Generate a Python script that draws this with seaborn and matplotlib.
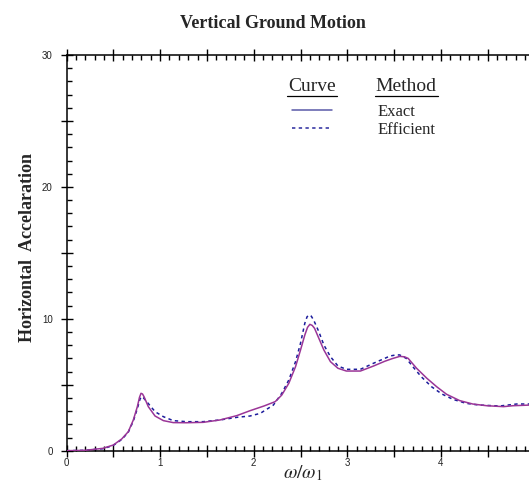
import matplotlib
matplotlib.use("Agg")
import matplotlib.pyplot as plt
from matplotlib.lines import Line2D
from matplotlib.ticker import MultipleLocator, FuncFormatter
import seaborn as sns
import pandas as pd

# Frequency ratio w/w1 and response, exact solution
exact_freq = [0.00, 0.20, 0.39, 0.50, 0.59, 0.66, 0.714, 0.757, 0.78, 0.796,
              0.812, 0.828, 0.874, 0.946, 1.035, 1.14, 1.28, 1.46, 1.64, 1.82,
              1.96, 2.11, 2.23, 2.30, 2.375, 2.447, 2.50, 2.546, 2.575, 2.60,
              2.625, 2.65, 2.696, 2.75, 2.82, 2.90, 2.99, 3.14, 3.28, 3.40,
              3.48, 3.56, 3.61, 3.65, 3.74, 3.85, 3.955, 4.06, 4.20, 4.34,
              4.49, 4.67, 4.77, 4.95]
exact_acc = [0.0, 0.03, 0.18, 0.43, 0.89, 1.44, 2.33, 3.34, 4.05, 4.35,
             4.30, 4.10, 3.34, 2.63, 2.28, 2.13, 2.12, 2.15, 2.33, 2.66,
             3.03, 3.39, 3.72, 4.22, 5.11, 6.37, 7.63, 8.77, 9.35, 9.58,
             9.50, 9.28, 8.52, 7.63, 6.75, 6.25, 6.04, 6.04, 6.42, 6.78,
             6.98, 7.15, 7.12, 7.00, 6.25, 5.49, 4.85, 4.28, 3.80, 3.54,
             3.41, 3.34, 3.41, 3.46]

# Efficient (approximate) method
eff_freq = [0.00, 0.20, 0.39, 0.50, 0.59, 0.66, 0.714, 0.757, 0.785, 0.80,
            0.82, 0.857, 0.946, 1.035, 1.14, 1.28, 1.46, 1.64, 1.82, 1.96,
            2.07, 2.21, 2.30, 2.375, 2.447, 2.50, 2.546, 2.57, 2.59, 2.615,
            2.64, 2.696, 2.75, 2.82, 2.90, 2.99, 3.14, 3.28, 3.40, 3.456,
            3.52, 3.56, 3.63, 3.70, 3.79, 3.90, 4.01, 4.13, 4.27, 4.41,
            4.63, 4.81, 4.95]
eff_acc = [0.0, 0.03, 0.15, 0.40, 0.85, 1.40, 2.25, 3.20, 3.90, 4.10,
           4.02, 3.72, 2.96, 2.58, 2.28, 2.20, 2.20, 2.33, 2.53, 2.63,
           2.83, 3.46, 4.35, 5.36, 6.75, 8.14, 9.66, 10.15, 10.29, 10.20,
           9.91, 9.02, 8.01, 7.13, 6.42, 6.17, 6.17, 6.63, 7.00, 7.18,
           7.26, 7.26, 7.00, 6.37, 5.61, 4.85, 4.30, 3.89, 3.59, 3.46,
           3.39, 3.54, 3.54]

x_tick_labels = ["0", "1", "2", "3", "4"]
y_tick_labels = ["0", "10", "20", "30"]

W, H = 529, 487
sns.set_style("white")
plt.rcParams["mathtext.fontset"] = "stix"

fig = plt.figure(figsize=(W / 100, H / 100), dpi=100)
ax = fig.add_axes([66.5 / W, 1 - 450.7 / H, 468 / W, 395.7 / H])

exact_df = pd.DataFrame({"freq": exact_freq, "acc": exact_acc})
eff_df = pd.DataFrame({"freq": eff_freq, "acc": eff_acc})

sns.lineplot(data=exact_df, x="freq", y="acc", ax=ax, sort=False,
             estimator=None, color="#9a3597", linewidth=1.1, zorder=3)
sns.lineplot(data=eff_df, x="freq", y="acc", ax=ax, sort=False,
             estimator=None, color="#1c1c9c", linewidth=1.1,
             linestyle=(0, (2.2, 2.2)), zorder=2)

ax.set_xlim(0, 5)
ax.set_ylim(0, 30)
ax.set_xlabel("")
ax.set_ylabel("")

for side in ["left", "bottom", "top"]:
    ax.spines[side].set_visible(True)
    ax.spines[side].set_color("black")
    ax.spines[side].set_linewidth(1.1)
ax.spines["right"].set_visible(False)

ax.xaxis.set_major_locator(MultipleLocator(0.5))
ax.xaxis.set_minor_locator(MultipleLocator(0.1))
ax.yaxis.set_major_locator(MultipleLocator(5))
ax.yaxis.set_minor_locator(MultipleLocator(1))


def x_fmt(v, pos):
    i = int(round(v))
    if abs(v - i) < 1e-6 and 0 <= i < len(x_tick_labels):
        return x_tick_labels[i]
    return ""


def y_fmt(v, pos):
    i = int(round(v / 10))
    if abs(v - 10 * i) < 1e-6 and 0 <= i < len(y_tick_labels):
        return y_tick_labels[i]
    return ""


ax.xaxis.set_major_formatter(FuncFormatter(x_fmt))
ax.yaxis.set_major_formatter(FuncFormatter(y_fmt))

ax.tick_params(which="major", direction="inout", length=8, width=1.0,
               color="black", top=True, bottom=True, left=True,
               labelsize=7, labelcolor="#222222")
ax.tick_params(which="minor", direction="in", length=3.5, width=1.0,
               color="black", top=True, bottom=True, left=True)
ax.tick_params(axis="x", which="major", pad=1)
ax.tick_params(axis="y", which="major", pad=6)
for lab in ax.get_xticklabels() + ax.get_yticklabels():
    lab.set_family("Liberation Sans")


def fx(px):
    return px / W


def fy(py):
    return 1 - py / H


fig.text(fx(273), fy(23), "Vertical Ground Motion", ha="center",
         va="center", family="Liberation Serif", weight="bold", fontsize=13)
fig.text(fx(28), fy(248), "Horizontal  Accelaration", ha="center",
         va="center", rotation=90, family="Liberation Serif",
         weight="bold", fontsize=13)
fig.text(fx(303), fy(473), r"$\omega/\omega_1$", ha="center", va="center",
         fontsize=14)

# legend block
fig.text(fx(312), fy(86), "Curve", ha="center", va="center",
         family="Liberation Serif", fontsize=14)
fig.text(fx(406), fy(86), "Method", ha="center", va="center",
         family="Liberation Serif", fontsize=14)
for x0, x1 in [(287, 337), (375, 438)]:
    fig.add_artist(Line2D([fx(x0), fx(x1)], [fy(96), fy(96)],
                          color="black", linewidth=0.9))
fig.add_artist(Line2D([fx(292), fx(332)], [fy(110), fy(110)],
                      color="#5a5aa8", linewidth=1.1))
fig.add_artist(Line2D([fx(292), fx(332)], [fy(128), fy(128)],
                      color="#2a2a9e", linewidth=1.1,
                      linestyle=(0, (2.2, 2.2))))
fig.text(fx(378), fy(112), "Exact", ha="left", va="center",
         family="Liberation Serif", fontsize=12)
fig.text(fx(378), fy(130), "Efficient", ha="left", va="center",
         family="Liberation Serif", fontsize=12)

fig.savefig("out.png", dpi=100)
